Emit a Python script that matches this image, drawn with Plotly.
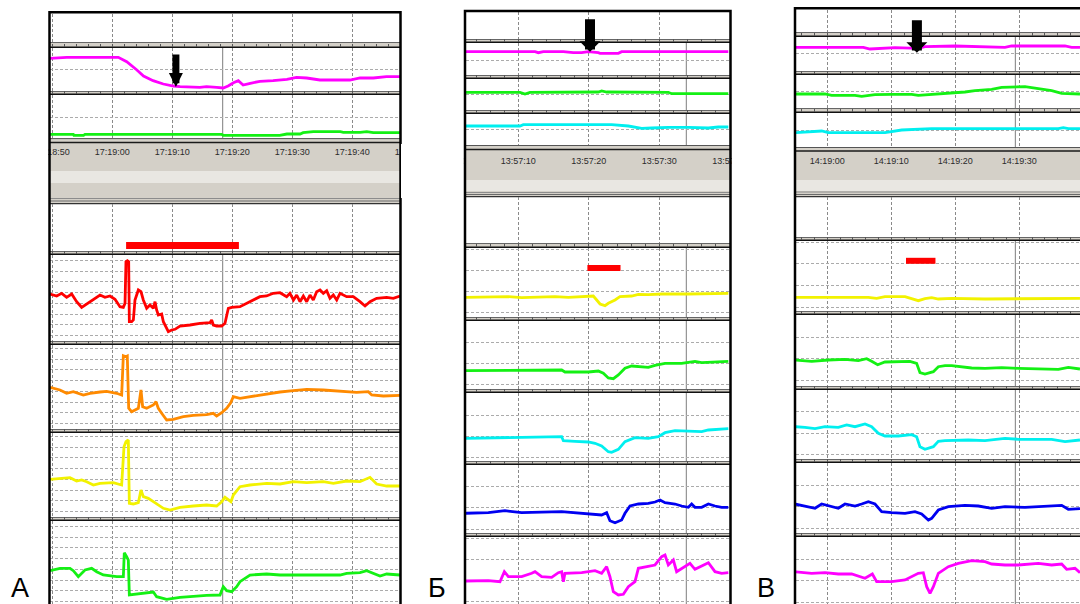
import plotly.graph_objects as go

W, H = 1080, 604

# ---------------- data: time in seconds from panel origin, signal level (a.u.) ----------------
A_TICK_SEC = [0, 10, 20, 30, 40, 50, 60]
A_TICK_TXT = ["17:18:50", "17:19:00", "17:19:10", "17:19:20", "17:19:30", "17:19:40", "17:19:50"]
B_TICK_SEC = [0, 10, 20, 30, 40]
B_TICK_TXT = ["13:57:00", "13:57:10", "13:57:20", "13:57:30", "13:57:40"]
C_TICK_SEC = [-10, 0, 10, 20, 30, 40]
C_TICK_TXT = ["14:18:50", "14:19:00", "14:19:10", "14:19:20", "14:19:30", "14:19:40"]

A_CURSOR, B_CURSOR, C_CURSOR = 28.4, 33.83, 29.38
A_ARROW = (20.6, 4.0)
B_ARROW = (20.17, 23.3)
C_ARROW = (14.0, 18.3)

A_EVENT_T = [12.3, 31.1]
A_EVENT_V = [5.5, 5.5]
B_EVENT_T = [19.8, 24.5]
B_EVENT_V = [49.0, 49.0]
C_EVENT_T = [12.3, 16.9]
C_EVENT_V = [50.2, 50.2]

# Panel A
A_MAG_T = [-0.4, 2.4, 11.0, 12.4, 14.1, 15.2, 16.8, 18.5, 20.2, 21.3, 24.6, 25.7, 27.4, 28.5, 29.3, 30.2,
           31.0, 31.8, 33.0, 34.6, 36.8, 39.1, 40.7, 42.4, 44.6, 49.6, 51.3, 53.5, 55.7, 58.0]
A_MAG_V = [32.7, 33.7, 33.7, 29.3, 21.0, 15.0, 10.3, 7.0, 5.0, 4.3, 3.7, 4.3, 3.7, 3.0, 5.0, 8.3,
           10.3, 6.0, 7.7, 9.7, 10.3, 11.7, 13.7, 13.0, 11.0, 11.0, 13.0, 13.0, 14.3, 14.3]
A_GRN1_T = [-0.4, 3.5, 3.6, 5.2, 5.45, 14.6, 14.7, 15.7, 15.8, 28.2, 28.5, 31.3, 31.8, 32.4, 37.9, 39.1,
            41.3, 41.8, 43.5, 48.0, 48.5, 51.3, 52.4, 53.5, 58.0]
A_GRN1_V = [3.7, 3.7, 2.7, 2.7, 3.7, 3.7, 4.3, 4.3, 3.7, 3.7, 2.7, 2.7, 3.3, 2.7, 2.7, 4.0,
            4.0, 5.3, 6.3, 6.3, 5.7, 5.7, 6.3, 5.3, 5.3]
A_RED_T = [-0.38, 0.73, 1.56, 2.39, 3.23, 4.06, 4.89, 5.73, 6.84, 7.95, 8.78, 9.62, 10.45, 11.28, 11.84,
           12.12, 12.28, 12.51, 12.73, 12.84, 13.23, 13.51, 13.78, 14.34, 14.78, 15.17, 15.73, 16.28,
           16.84, 17.12, 17.39, 17.67, 18.23, 18.51, 19.34, 19.9, 20.45, 21.28, 22.95, 24.62, 26.28,
           26.56, 26.84, 27.39, 28.23, 28.78, 29.34, 29.9, 31.28, 32.4, 33.5, 34.6, 35.7, 36.84, 37.95,
           39.06, 39.6, 40.2, 40.73, 41.28, 41.84, 42.4, 42.95, 43.5, 44.06, 44.62, 45.17, 45.73, 46.28,
           46.84, 47.4, 47.95, 49.06, 50.17, 51.28, 52.12, 52.95, 54.06, 55.73, 56.84, 57.95]
A_RED_V = [47.0, 45.0, 47.7, 43.7, 47.0, 39.3, 33.7, 37.0, 41.0, 46.0, 43.7, 45.0, 41.7, 34.3, 33.7,
           37.7, 79.3, 80.3, 79.3, 19.3, 19.3, 21.0, 41.0, 51.0, 49.3, 41.0, 32.7, 36.0,
           32.7, 39.3, 31.0, 26.0, 27.0, 19.3, 9.3, 11.0, 11.7, 15.0, 16.0, 17.7, 18.3,
           21.0, 16.0, 15.0, 15.0, 17.7, 32.7, 33.7, 34.3, 37.7, 41.0, 44.3, 45.0, 47.7, 48.3,
           44.3, 47.7, 41.0, 46.0, 39.3, 45.0, 39.3, 46.0, 41.0, 49.3, 51.0, 47.7, 50.3, 42.7,
           46.0, 41.0, 47.7, 44.3, 44.3, 39.3, 35.0, 39.3, 42.7, 43.7, 42.7, 45.0]
A_ORG_T = [-0.38, 1.28, 2.39, 3.5, 5.17, 6.28, 7.95, 9.06, 10.73, 11.56, 11.84, 12.28, 12.5, 12.73, 13.23,
           13.78, 14.34, 14.78, 15.06, 15.73, 16.84, 17.28, 17.67, 18.23, 19.06, 20.17, 21.84, 23.5,
           25.73, 26.84, 27.39, 28.23, 29.06, 29.73, 30.17, 31.28, 33.5, 35.73, 37.95, 40.17, 42.4,
           45.17, 47.95, 50.73, 52.67, 53.23, 55.17, 57.95]
A_ORG_V = [41.7, 39.0, 35.7, 37.3, 34.0, 35.7, 37.0, 37.7, 35.7, 34.0, 73.3, 72.3, 73.0, 20.7, 17.3,
           19.0, 20.7, 39.0, 22.3, 20.7, 24.0, 27.3, 20.7, 15.7, 9.0, 9.7, 12.3, 13.7,
           14.3, 15.7, 13.0, 16.3, 20.7, 26.3, 32.3, 30.7, 33.0, 35.0, 37.0, 38.3, 39.7,
           39.0, 37.7, 36.7, 37.3, 34.0, 33.0, 33.7]
A_YEL_T = [-0.38, 1.28, 2.95, 4.06, 4.89, 5.73, 6.84, 7.95, 9.06, 10.17, 11.56, 11.95, 12.28, 12.67, 12.84,
           13.51, 14.34, 14.78, 15.17, 16.0, 16.84, 17.67, 18.51, 19.62, 21.28, 23.5, 25.73, 27.39, 28.23,
           28.78, 29.34, 29.78, 30.17, 31.28, 32.95, 35.73, 37.95, 40.17, 42.4, 45.17, 46.84, 49.06,
           51.28, 52.95, 54.06, 55.73, 57.95]
A_YEL_V = [37.7, 38.7, 39.3, 36.0, 37.0, 35.3, 32.0, 33.7, 33.7, 34.3, 32.0, 70.3, 75.3, 77.0, 13.7,
           13.0, 14.3, 27.0, 20.3, 18.7, 15.3, 12.0, 8.7, 7.0, 9.7, 11.0, 12.0, 11.0, 15.3,
           19.7, 17.0, 15.3, 22.0, 30.3, 32.0, 33.7, 33.0, 35.3, 34.3, 35.3, 33.7, 36.0,
           35.3, 39.7, 33.0, 31.0, 31.0]
A_GRN2_T = [-0.38, 1.28, 2.95, 3.5, 4.34, 5.45, 6.56, 7.39, 8.5, 9.62, 10.73, 11.84, 12.0, 12.39, 12.67,
            12.84, 14.06, 15.73, 16.84, 17.39, 19.06, 21.28, 23.5, 25.73, 27.95, 28.5, 29.06, 29.89,
            30.73, 31.28, 32.95, 35.73, 37.95, 42.4, 45.17, 47.95, 49.06, 51.28, 52.4, 53.5, 54.62,
            55.73, 57.95]
A_GRN2_V = [36.3, 38.7, 38.7, 36.3, 30.3, 37.0, 38.7, 35.3, 32.0, 31.0, 30.3, 30.3, 54.3, 50.3, 47.0,
            12.0, 13.0, 14.3, 15.0, 10.3, 7.7, 9.7, 11.0, 11.7, 12.0, 20.3, 16.3, 15.3,
            20.3, 25.3, 32.0, 33.0, 32.0, 32.0, 31.7, 32.0, 33.7, 34.3, 36.3, 33.7, 31.0,
            33.0, 32.0]

# Panel B
B_MAG1_T = [2.44, 12.37, 12.84, 13.55, 16.39, 17.8, 18.99, 19.93, 21.35, 21.59, 24.19, 24.66, 39.79]
B_MAG1_V = [23.3, 23.3, 22.3, 23.3, 23.3, 22.3, 22.3, 23.3, 22.3, 21.7, 21.7, 23.3, 23.3]
B_GRN1_T = [2.44, 10.24, 10.95, 11.66, 21.35, 21.82, 22.53, 31.28, 31.75, 39.79]
B_GRN1_V = [17.7, 17.7, 16.0, 17.7, 18.0, 19.0, 18.0, 17.7, 16.3, 16.3]
B_CYN1_T = [2.44, 10.24, 10.71, 23.24, 25.61, 27.5, 28.92, 31.28, 34.12, 36.96, 38.37, 39.79]
B_CYN1_V = [19.0, 19.0, 20.3, 20.3, 19.0, 16.7, 17.0, 17.7, 17.7, 17.0, 18.0, 18.0]
B_YEL_T = [2.44, 8.59, 10.48, 15.2, 17.1, 19.93, 20.64, 21.12, 21.59, 22.3, 22.77, 23.72, 24.42, 26.08,
           27.03, 28.44, 30.34, 34.12, 37.9, 39.79]
B_YEL_V = [19.7, 20.3, 19.3, 20.3, 19.7, 20.3, 21.0, 17.0, 13.0, 11.3, 13.7, 17.0, 20.3, 21.0,
           22.7, 22.3, 23.0, 23.0, 23.7, 23.7]
B_GRN2_T = [2.44, 8.11, 15.2, 16.15, 16.62, 19.93, 21.35, 22.06, 22.77, 23.48, 24.19, 25.13, 26.08, 27.5,
            28.44, 29.39, 30.81, 33.17, 35.06, 36.01, 37.9, 39.79]
B_GRN2_V = [18.3, 18.3, 19.0, 19.0, 17.0, 17.0, 18.0, 15.7, 11.0, 10.3, 14.0, 20.7, 23.0, 22.3,
            21.7, 23.7, 25.7, 25.7, 27.7, 26.3, 27.0, 27.7]
B_CYN2_T = [2.44, 5.75, 10.48, 16.15, 16.39, 18.04, 19.93, 20.88, 21.82, 22.77, 23.24, 24.19, 25.13,
            26.55, 28.44, 29.86, 30.81, 32.23, 34.12, 36.01, 36.96, 38.37, 39.79]
B_CYN2_V = [22.7, 23.3, 23.7, 24.3, 20.3, 19.7, 19.0, 17.7, 15.0, 9.3, 8.7, 11.7, 19.3,
            23.3, 22.7, 24.3, 28.3, 30.3, 30.0, 29.3, 31.0, 31.7, 32.3]
B_BLU_T = [2.44, 5.75, 8.11, 10.48, 16.15, 18.99, 19.93, 21.82, 22.53, 23.0, 23.72, 24.66, 25.13, 25.84,
           27.03, 28.44, 29.39, 30.1, 30.81, 32.23, 33.17, 34.12, 34.59, 35.06, 36.01, 36.96, 37.9,
           38.85, 39.79]
B_BLU_V = [19.7, 20.3, 22.3, 20.3, 21.3, 19.7, 19.0, 18.0, 20.3, 12.3, 10.3, 13.0, 19.7, 27.0,
           29.0, 29.7, 31.0, 33.0, 30.3, 29.0, 27.0, 25.7, 29.0, 25.7, 25.7, 29.0, 27.0,
           25.7, 25.7]
B_MAG2_T = [2.44, 5.75, 7.4, 8.02, 8.59, 10.48, 11.9, 12.37, 13.31, 14.73, 15.68, 16.15, 16.39, 16.62,
            18.99, 20.88, 21.82, 22.53, 23.0, 23.48, 24.19, 24.9, 25.61, 26.55, 27.03, 28.44, 29.39,
            30.34, 30.81, 31.28, 31.99, 32.46, 33.64, 34.35, 35.06, 36.96, 37.9, 38.85, 39.79]
B_MAG2_V = [24.0, 24.3, 23.3, 33.3, 28.3, 28.3, 31.7, 33.3, 28.3, 27.7, 32.3, 33.3, 23.3, 31.7,
            32.3, 34.3, 31.7, 38.3, 28.3, 13.3, 10.0, 10.7, 18.3, 23.3, 36.7, 39.0, 40.0,
            48.3, 50.0, 40.0, 45.0, 33.3, 38.3, 41.7, 35.7, 42.3, 33.3, 31.7, 32.3]

# Panel C
C_MAG1_T = [-5.05, 5.63, 6.67, 8.49, 10.58, 14.22, 15.26, 19.95, 26.72, 27.76, 28.8, 37.14, 38.18, 39.48]
C_MAG1_V = [23.7, 23.7, 22.0, 22.7, 23.3, 22.7, 24.3, 25.0, 24.3, 23.7, 25.0, 25.0, 23.7, 23.7]
C_GRN1_T = [-5.05, -0.36, 0.68, 4.33, 5.37, 7.45, 10.06, 13.18, 14.22, 15.79, 17.87, 19.95, 21.51, 23.08,
            25.68, 27.24, 29.85, 30.89, 32.97, 35.06, 36.62, 39.48]
C_GRN1_V = [14.0, 14.0, 12.7, 12.7, 11.7, 13.3, 13.7, 13.7, 12.7, 13.3, 14.3, 14.7, 16.0, 17.3,
            18.7, 20.7, 21.3, 21.3, 19.3, 17.3, 14.7, 14.0]
C_CYN1_T = [-5.05, -0.88, 0.16, 9.01, 11.62, 16.31, 24.64, 36.1, 36.88, 37.66, 39.48]
C_CYN1_V = [14.3, 16.0, 14.3, 14.3, 17.0, 18.3, 18.3, 18.3, 19.3, 18.3, 18.3]
C_YEL_T = [-5.05, 1.2, 6.41, 7.71, 9.01, 12.14, 13.18, 14.22, 15.26, 16.31, 17.35, 19.43, 24.64, 29.85,
           35.06, 39.48]
C_YEL_V = [13.7, 13.7, 13.7, 12.7, 14.3, 14.3, 12.3, 10.3, 12.3, 13.3, 12.0, 12.7, 12.0, 12.3,
           12.3, 12.7]
C_GRN2_T = [-5.05, -2.44, 0.16, 2.77, 4.85, 6.15, 6.93, 7.87, 9.01, 11.1, 12.92, 13.96, 14.48, 15.26,
            16.57, 17.35, 18.39, 19.43, 20.47, 22.56, 24.64, 27.24, 29.85, 32.97, 36.1, 37.66, 38.7, 39.48]
C_GRN2_V = [26.0, 24.7, 26.0, 26.7, 25.3, 27.3, 24.7, 21.3, 24.0, 24.7, 24.7, 22.7, 13.3, 12.0,
            14.3, 19.3, 20.3, 20.3, 19.3, 18.0, 17.7, 18.3, 17.7, 17.3, 16.7, 18.7, 17.7, 17.0]
C_CYN2_T = [-5.05, -3.49, -1.92, -0.36, 1.72, 3.03, 4.33, 5.89, 6.93, 7.97, 9.01, 11.1, 13.18, 13.96,
            14.48, 15.26, 16.57, 17.35, 18.39, 22.04, 24.64, 26.72, 27.76, 29.85, 35.06, 37.14, 39.48]
C_CYN2_V = [32.3, 31.7, 30.3, 32.3, 31.7, 34.0, 32.3, 35.0, 32.3, 25.7, 23.0, 23.0, 24.3, 22.3,
            12.3, 9.7, 12.3, 17.7, 18.3, 19.0, 18.3, 19.7, 20.7, 19.7, 19.7, 17.3, 19.0]
C_BLU_T = [-5.05, -3.49, -1.92, -0.88, 0.68, 1.72, 2.77, 4.33, 5.37, 6.41, 7.45, 8.49, 10.06, 12.14,
           13.7, 14.74, 15.79, 16.31, 17.35, 18.91, 21.51, 23.6, 25.68, 27.76, 30.89, 32.97, 35.06,
           36.62, 37.66, 39.48]
C_BLU_V = [29.0, 27.0, 24.7, 29.0, 26.3, 24.7, 29.0, 27.0, 29.0, 31.3, 29.0, 21.3, 20.3, 19.7,
           21.3, 19.0, 13.0, 14.7, 23.0, 26.3, 27.7, 27.0, 24.7, 26.3, 25.7, 26.3, 27.0,
           27.7, 23.7, 24.3]
C_MAG2_T = [-5.05, -2.44, -0.36, 1.72, 3.81, 5.89, 7.04, 7.71, 10.06, 12.14, 14.22, 15.0, 15.53, 16.05,
            16.57, 17.35, 18.91, 20.47, 22.56, 24.64, 25.68, 27.76, 29.85, 32.97, 35.06, 36.62, 37.4,
            38.7, 39.48]
C_MAG2_V = [33.3, 31.7, 32.3, 31.0, 31.0, 26.7, 31.0, 23.3, 23.3, 25.0, 31.7, 32.3, 18.3, 11.7,
            18.3, 31.7, 38.3, 41.7, 44.3, 43.3, 41.0, 40.0, 40.0, 41.7, 40.0, 41.0, 35.7,
            36.7, 32.3]

# ---------------- styles ----------------
MAG, GRN, CYN, YEL = "#ff00ff", "#14f014", "#00efef", "#f2f200"
RED, ORG, BLU = "#ff0000", "#ff8a00", "#0000f0"
GRID_V, GRID_H = "#8a8a8a", "#ababab"
SEP_FILL, LIGHT_FILL = "#d4d0c8", "#e9e7e2"
LW = 2.8


def strip(top, bottom, base, grid=None, ticks=True, cursor=True, traces=(), event=None):
    return dict(top=top, bottom=bottom, base=base, grid=grid, ticks=ticks, cursor=cursor,
                traces=list(traces), event=event)


panels = [
    dict(letter="А", letter_x=20, origin=52.3, pps=6.0, left=50.0, right=400.0,
         frame=(49.5, 400.5, 12.3), band=(138, 204), light=(171, 183),
         band_lines=[(138.6, "#555", 1), (142.6, "#1a1a1a", 1.5), (198.5, "#8c8c8c", 1),
                     (201.0, "#6a6a6a", 1), (203.6, "#333", 1.2)],
         label_y=152, band_x=(0, 463), covers=[(0, 48.2), (401.8, 463.5)],
         cursor=A_CURSOR, ticks=(A_TICK_SEC, A_TICK_TXT), arrow=A_ARROW, arrow_strip=1,
         arrow_style=dict(arrowhead=2, arrowwidth=7, arrowsize=0.4),
         strips=[
             strip(13.5, 42, 42, ticks=False, cursor=False),
             strip(48, 91, 91, (21.7, 100), traces=[(A_MAG_T, A_MAG_V, MAG)]),
             strip(95, 138, 138, (20.7, 100), traces=[(A_GRN1_T, A_GRN1_V, GRN)]),
             strip(204, 251, 251, ticks=False, cursor=False, event=(A_EVENT_T, A_EVENT_V, 7)),
             strip(255, 341, 341, (5.4, 10.75), traces=[(A_RED_T, A_RED_V, RED)]),
             strip(345, 429, 429, (5.4, 10.75), traces=[(A_ORG_T, A_ORG_V, ORG)]),
             strip(433, 517, 517, (5.4, 10.75), traces=[(A_YEL_T, A_YEL_V, YEL)]),
             strip(521, 607, 607, (5.4, 10.75), traces=[(A_GRN2_T, A_GRN2_V, GRN)]),
         ]),
    dict(letter="Б", letter_x=437, origin=447.8, pps=7.05, left=466.0, right=729.5,
         frame=(465.0, 730.5, 11.0), band=(145, 197), light=(180, 191),
         band_lines=[(145.5, "#555", 1), (149.5, "#1a1a1a", 1.5), (192.5, "#8c8c8c", 1),
                     (194.5, "#6a6a6a", 1), (196.6, "#333", 1.2)],
         label_y=161, band_x=(401, 794), covers=[(401, 463.8), (731.7, 794)],
         cursor=B_CURSOR, ticks=(B_TICK_SEC, B_TICK_TXT), arrow=B_ARROW, arrow_strip=1,
         arrow_style=dict(arrowhead=1, arrowwidth=10, arrowsize=0.35),
         strips=[
             strip(12.3, 39, 39, ticks=False, cursor=False),
             strip(43, 75, 75, (15.0, 100), traces=[(B_MAG1_T, B_MAG1_V, MAG)]),
             strip(79, 110, 110, (15.7, 100), traces=[(B_GRN1_T, B_GRN1_V, GRN)]),
             strip(114, 145, 145, (15.7, 100), traces=[(B_CYN1_T, B_CYN1_V, CYN)]),
             strip(197, 243, 243, ticks=False, cursor=False),
             strip(248, 317, 317, (4.3, 21.2), traces=[(B_YEL_T, B_YEL_V, YEL)],
                   event=(B_EVENT_T, B_EVENT_V, 6)),
             strip(321, 389, 389, (4.3, 21.2), traces=[(B_GRN2_T, B_GRN2_V, GRN)]),
             strip(393, 461, 461, (3.7, 21.1), traces=[(B_CYN2_T, B_CYN2_V, CYN)]),
             strip(465, 533, 533, (4.0, 21.2), traces=[(B_BLU_T, B_BLU_V, BLU)]),
             strip(537, 605, 605, (3.5, 21.1), traces=[(B_MAG2_T, B_MAG2_V, MAG)]),
         ]),
    dict(letter="В", letter_x=766, origin=827.3, pps=6.4, left=796.0, right=1080.0,
         frame=(795.0, 1090.0, 8.3), band=(147, 197), light=(180, 191),
         band_lines=[(147.5, "#555", 1), (151.0, "#1a1a1a", 1.5), (192.0, "#8c8c8c", 1),
                     (194.5, "#6a6a6a", 1), (196.6, "#333", 1.2)],
         label_y=161, band_x=(760, 1080), covers=[(760, 793.8)],
         cursor=C_CURSOR, ticks=(C_TICK_SEC, C_TICK_TXT), arrow=C_ARROW, arrow_strip=1,
         arrow_style=dict(arrowhead=1, arrowwidth=10, arrowsize=0.35),
         strips=[
             strip(9.6, 32, 32, ticks=False, cursor=False),
             strip(37, 71, 71, (17.7, 100), traces=[(C_MAG1_T, C_MAG1_V, MAG)]),
             strip(75, 108, 108, (16.3, 100), traces=[(C_GRN1_T, C_GRN1_V, GRN)]),
             strip(113, 147, 147, (17.0, 100), traces=[(C_CYN1_T, C_CYN1_V, CYN)]),
             strip(197, 237, 237, ticks=False, cursor=False),
             strip(241, 311, 311, (3.7, 21.7), traces=[(C_YEL_T, C_YEL_V, YEL)],
                   event=(C_EVENT_T, C_EVENT_V, 6)),
             strip(315, 386, 386, (5.3, 21.8), traces=[(C_GRN2_T, C_GRN2_V, GRN)]),
             strip(390, 459, 459, (4.7, 21.3), traces=[(C_CYN2_T, C_CYN2_V, CYN)]),
             strip(463, 533, 533, (4.7, 21.6), traces=[(C_BLU_T, C_BLU_V, BLU)]),
             strip(537, 605, 605, (2.7, 21.5), traces=[(C_MAG2_T, C_MAG2_V, MAG)]),
         ]),
]


def names(n):
    if n == 1:
        return "xaxis", "yaxis", "x", "y"
    return f"xaxis{n}", f"yaxis{n}", f"x{n}", f"y{n}"


def py(p):
    return 1 - p / H


fig = go.Figure()
layout = {}
shapes_below, shapes_above, annotations = [], [], []
n = 0

for P in panels:
    org, pps = P["origin"], P["pps"]
    t_of = (lambda o, s: (lambda px: (px - o) / s))(org, pps)
    fl, fr, ft = P["frame"]
    strip_axes = []

    # separators between adjacent strips
    sts = P["strips"]
    for a, b in zip(sts[:-1], sts[1:]):
        gap = b["top"] - a["bottom"]
        if 0 < gap < 10:
            shapes_below.append(dict(type="rect", xref="paper", yref="paper", x0=fl / W, x1=fr / W,
                                     y0=py(b["top"]), y1=py(a["bottom"]), fillcolor=SEP_FILL,
                                     line=dict(width=0), layer="below"))
            shapes_below.append(dict(type="line", xref="paper", yref="paper", x0=fl / W, x1=fr / W,
                                     y0=py(a["bottom"] + 0.5), y1=py(a["bottom"] + 0.5),
                                     line=dict(color="#666", width=1), layer="below"))
            shapes_below.append(dict(type="line", xref="paper", yref="paper", x0=fl / W, x1=fr / W,
                                     y0=py(b["top"] - 0.8), y1=py(b["top"] - 0.8),
                                     line=dict(color="#111", width=1.6), layer="below"))

    # grey time band
    bt, bb = P["band"]
    shapes_below.append(dict(type="rect", xref="paper", yref="paper", x0=fl / W, x1=fr / W,
                             y0=py(bb), y1=py(bt), fillcolor=SEP_FILL, line=dict(width=0), layer="below"))
    lt, lb = P["light"]
    shapes_below.append(dict(type="rect", xref="paper", yref="paper", x0=fl / W, x1=fr / W,
                             y0=py(lb), y1=py(lt), fillcolor=LIGHT_FILL, line=dict(width=0), layer="below"))
    for yy, col, wd in P["band_lines"]:
        shapes_below.append(dict(type="line", xref="paper", yref="paper", x0=fl / W, x1=fr / W,
                                 y0=py(yy), y1=py(yy), line=dict(color=col, width=wd), layer="below"))

    for S in sts:
        n += 1
        xa, ya, xr, yr = names(n)
        strip_axes.append((xr, yr))
        bot = min(S["bottom"], H)
        xdict = dict(domain=[P["left"] / W, min(P["right"] / W, 1.0)],
                     range=[t_of(P["left"]), t_of(P["right"])], anchor=yr, side="top",
                     showgrid=True, gridcolor=GRID_V, griddash="3px,2px", gridwidth=1,
                     tickmode="linear", tick0=0, dtick=10, zeroline=False, showticklabels=False,
                     showline=False, fixedrange=True, automargin=False)
        if S["ticks"]:
            xdict.update(ticks="outside", ticklen=3, tickcolor="#555", tickwidth=1,
                         minor=dict(dtick=2, tick0=0, ticks="outside", ticklen=3,
                                    tickcolor="#555", showgrid=False))
        else:
            xdict.update(ticks="")
        layout[xa] = xdict
        ydict = dict(domain=[py(bot), py(S["top"])], range=[S["base"] - bot, S["base"] - S["top"]],
                     anchor=xr, showticklabels=False, ticks="", zeroline=False, showline=False,
                     fixedrange=True, automargin=False)
        if S["grid"]:
            g0, gs = S["grid"]
            ydict.update(showgrid=True, tickmode="linear", tick0=g0, dtick=gs, gridcolor=GRID_H,
                         griddash="3px,2px", gridwidth=1)
        else:
            ydict.update(showgrid=False)
        layout[ya] = ydict

        drew = False
        for T, V, col in S["traces"]:
            fig.add_trace(go.Scatter(x=T, y=V, mode="lines", line=dict(color=col, width=LW),
                                     xaxis=xr, yaxis=yr, showlegend=False, hoverinfo="skip"))
            drew = True
        if S["event"]:
            ET, EV, ew = S["event"]
            fig.add_trace(go.Scatter(x=ET, y=EV, mode="lines", line=dict(color=RED, width=ew),
                                     xaxis=xr, yaxis=yr, showlegend=False, hoverinfo="skip"))
            drew = True
        if not drew:
            fig.add_trace(go.Scatter(x=[], y=[], xaxis=xr, yaxis=yr, showlegend=False, hoverinfo="skip"))
        if S["cursor"]:
            shapes_below.append(dict(type="line", xref=xr, yref=f"{yr} domain", x0=P["cursor"],
                                     x1=P["cursor"], y0=0, y1=1, line=dict(color="#7d7d7d", width=1),
                                     layer="below"))

    # time label axis in grey band
    n += 1
    xa, ya, xr, yr = names(n)
    bx0, bx1 = P["band_x"]
    tl, tr = t_of(bx0), t_of(bx1)
    tsec, ttxt = P["ticks"]
    tv, tt = [], []
    for s, txt in zip(tsec, ttxt):
        if tl <= s <= tr:
            tv.append(s); tt.append(txt)
        elif tr < s < tr + 1:
            tv.append(tr - 0.03); tt.append(txt)
    layout[xa] = dict(domain=[bx0 / W, bx1 / W], range=[tl, tr], anchor=yr, side="bottom",
                      tickmode="array", tickvals=tv, ticktext=tt, showgrid=False, zeroline=False,
                      showline=False, ticks="", fixedrange=True, automargin=False,
                      tickfont=dict(family="Liberation Sans", size=9, color="#2b2b2b"))
    ly = P["label_y"]
    layout[ya] = dict(domain=[py(ly - 7), py(ly - 9)], visible=False, fixedrange=True, anchor=xr,
                      automargin=False)
    fig.add_trace(go.Scatter(x=[], y=[], xaxis=xr, yaxis=yr, showlegend=False, hoverinfo="skip"))

    for c0, c1 in P["covers"]:
        shapes_above.append(dict(type="rect", xref="paper", yref="paper", x0=c0 / W, x1=c1 / W,
                                 y0=py(bb + 1), y1=py(bt - 1), fillcolor="white",
                                 line=dict(width=0), layer="above"))
    # panel frame
    shapes_above.append(dict(type="rect", xref="paper", yref="paper", x0=fl / W, x1=fr / W,
                             y0=py(612), y1=py(ft), line=dict(color="black", width=2.5),
                             fillcolor="rgba(0,0,0,0)", layer="above"))

    # arrow on the first physiological strip
    axr, ayr = strip_axes[P["arrow_strip"]]
    annotations.append(dict(xref=axr, yref=ayr, x=P["arrow"][0], y=P["arrow"][1], text="",
                            showarrow=True, ax=0, ay=-34, arrowcolor="black",
                            **P["arrow_style"]))
    annotations.append(dict(xref="paper", yref="paper", x=P["letter_x"] / W, y=0.0,
                            xanchor="center", yanchor="bottom", text=P["letter"], showarrow=False,
                            borderpad=0, font=dict(family="Liberation Sans", size=27, color="black")))

layout.update(template="none", width=W, height=H, autosize=False,
              margin=dict(l=0, r=0, t=0, b=0, pad=0),
              paper_bgcolor="white", plot_bgcolor="rgba(0,0,0,0)", showlegend=False,
              shapes=shapes_below + shapes_above, annotations=annotations)
fig.update_layout(**layout)

fig.write_html("out.html", config={"displayModeBar": False, "staticPlot": True},
               post_script="document.body.style.margin='0';document.body.style.overflow='hidden';")
